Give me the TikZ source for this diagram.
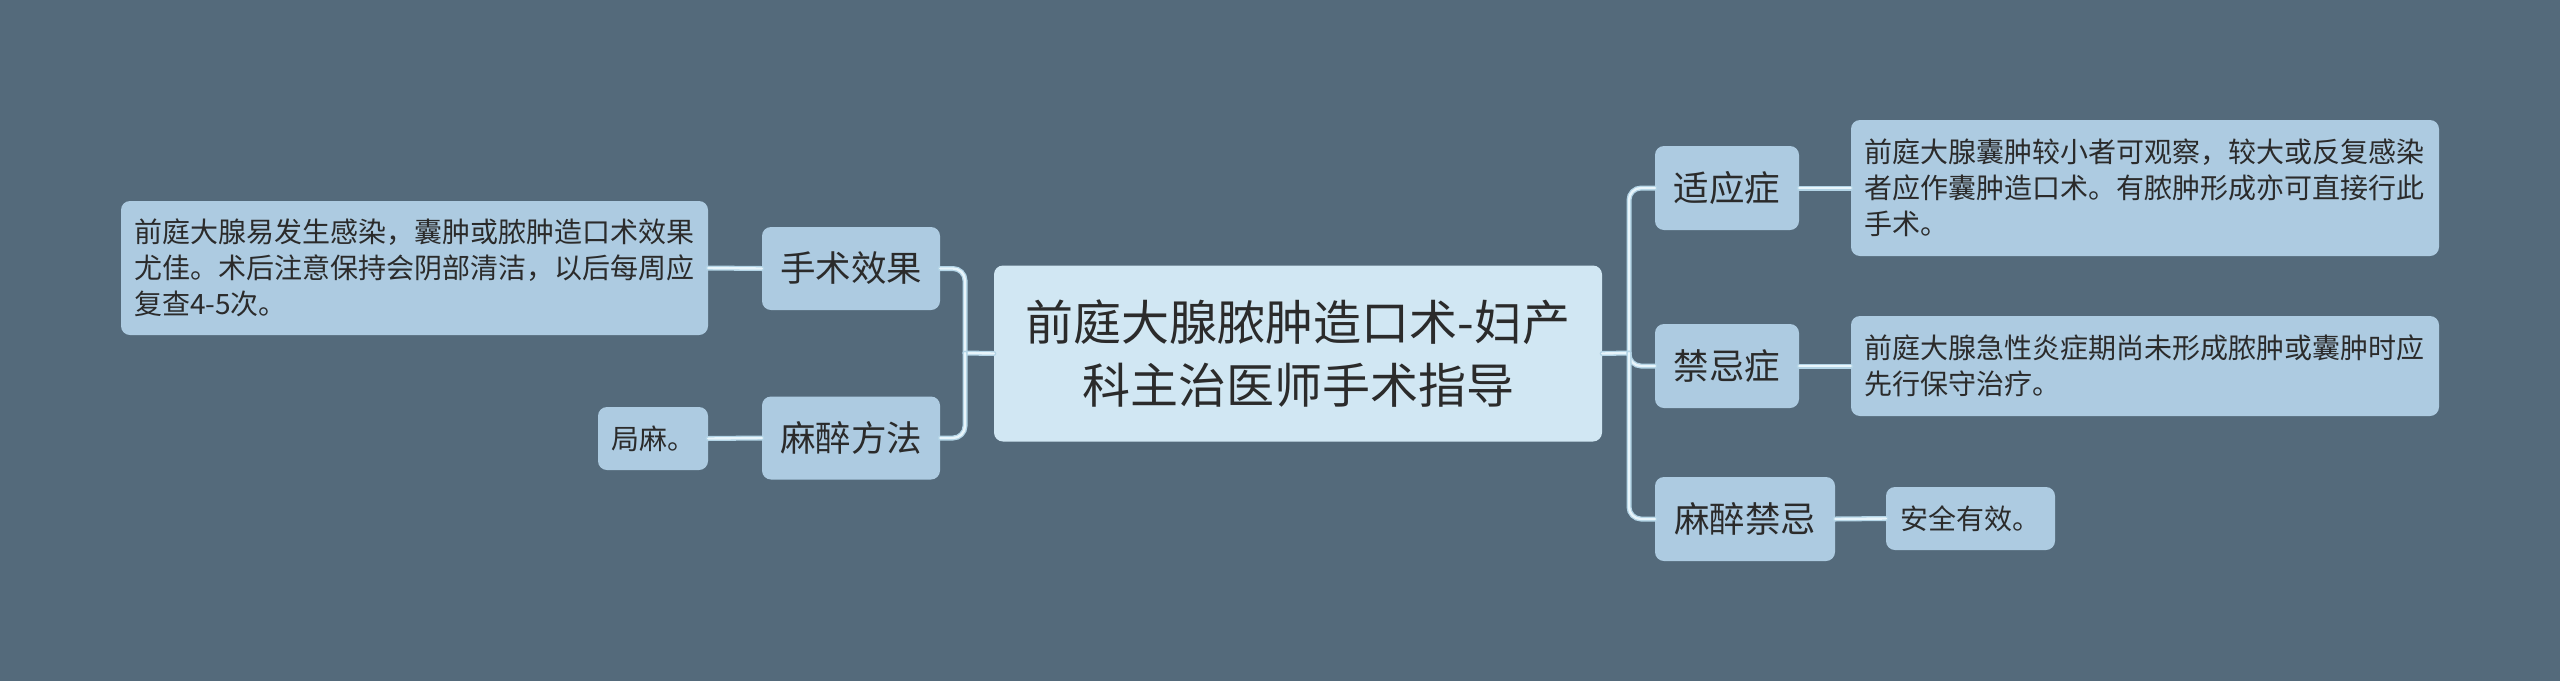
\documentclass[tikz,border=0pt]{standalone}
\usepackage{fontspec}
\setmainfont{Noto Sans CJK SC}
\definecolor{bg}{HTML}{546A7B}
\definecolor{rootfill}{HTML}{D1E7F3}
\definecolor{boxfill}{HTML}{ADCBE1}
\definecolor{lineout}{HTML}{B3D4E6}
\definecolor{linein}{HTML}{E8F5FB}
\definecolor{txt}{HTML}{2B2B2B}
\tikzset{
  rootbox/.style={draw=none, fill=rootfill, rounded corners=9pt, inner sep=0pt, align=center, text=txt,
    font=\fontsize{48}{63}\selectfont},
  childbox/.style={draw=none, fill=boxfill, rounded corners=9pt, inner sep=0pt, align=center, text=txt,
    font=\fontsize{35.5}{42}\selectfont, minimum height=83pt},
  leafbox/.style={draw=none, fill=boxfill, rounded corners=9pt, inner sep=0pt, align=left, text=txt,
    font=\fontsize{28}{36}\selectfont},
  conn/.style={line width=5pt, draw=lineout, rounded corners=12pt, line cap=round,
    postaction={draw=linein, line width=2.4pt}},
}
\begin{document}
\begin{tikzpicture}[x=1pt,y=-1pt]
\fill[bg] (0,0) rectangle (2560,681);
\useasboundingbox (0,0) rectangle (2560,681);

\coordinate (lj) at (965,353);
\coordinate (rj) at (1629,353);

% nodes
\node[rootbox, minimum width=608pt, minimum height=176pt] (root) at (1298,353.5)
  {前庭大腺脓肿造口术-妇产\\科主治医师手术指导};

\node[childbox, minimum width=178pt] (sxxg) at (851,268.5) {手术效果};
\node[childbox, minimum width=178pt] (mzff) at (851,438) {麻醉方法};
\node[leafbox, minimum width=587pt, minimum height=134pt, text width=561pt] (l1) at (414.5,268)
  {前庭大腺易发生感染，囊肿或脓肿造口术效果\\尤佳。术后注意保持会阴部清洁，以后每周应\\复查4-5次。};
\node[leafbox, minimum width=110pt, minimum height=63pt, align=center] (l2) at (653,438.5) {局麻。};

\node[childbox, minimum width=144pt, minimum height=84pt] (syz) at (1727,188) {适应症};
\node[childbox, minimum width=144pt, minimum height=84pt] (jjz) at (1727,366) {禁忌症};
\node[childbox, minimum width=180pt, minimum height=84pt] (mzjj) at (1745,519) {麻醉禁忌};
\node[leafbox, minimum width=588pt, minimum height=136pt, text width=562pt] (r1) at (2145,188)
  {前庭大腺囊肿较小者可观察，较大或反复感染\\者应作囊肿造口术。有脓肿形成亦可直接行此\\手术。};
\node[leafbox, minimum width=588pt, minimum height=100pt, text width=562pt] (r2) at (2145,366)
  {前庭大腺急性炎症期尚未形成脓肿或囊肿时应\\先行保守治疗。};
\node[leafbox, minimum width=169pt, minimum height=63pt, align=center] (r3) at (1970.5,518.5) {安全有效。};

% connectors
\draw[conn] (root.west) -- (lj);
\draw[conn] (lj) |- (sxxg.east);
\draw[conn] (lj) |- (mzff.east);
\draw[conn] (sxxg.west) -- (l1.east);
\draw[conn] (mzff.west) -- (l2.east);

\draw[conn] (root.east) -- (rj);
\draw[conn] (rj) |- (syz.west);
\draw[conn] (rj) |- (jjz.west);
\draw[conn] (rj) |- (mzjj.west);
\draw[conn] (syz.east) -- (r1.west);
\draw[conn] (jjz.east) -- (r2.west);
\draw[conn] (mzjj.east) -- (r3.west);
\end{tikzpicture}
\end{document}
